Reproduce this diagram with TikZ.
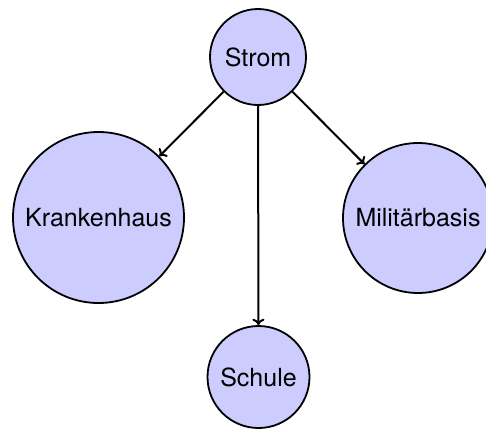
\documentclass[tikz,border=0pt]{standalone}
\usepackage{fontspec}
\setmainfont{TeX Gyre Heros}
\usepackage{tikz}
\usetikzlibrary{arrows,arrows.meta,shapes}

\begin{document}
\begin{tikzpicture}[->,>={To[length=3.2pt,width=6pt]},line width=1pt,
			main node/.style={circle,draw,line width=0.9pt,fill=blue!20,inner sep=0pt,font=\fontsize{12.5}{15}\selectfont}
			]

			\useasboundingbox (0pt,0pt) rectangle (243pt,-214.5pt);

			\node[main node,minimum size=48pt] at (129pt,-28.5pt) (strom) {Strom};
			\node[main node,minimum size=85.5pt] at (49.25pt,-108.75pt) (kh) {Krankenhaus};
			\node[main node,minimum size=75pt] at (209pt,-109pt) (mil) {Militärbasis};
			\node[main node,minimum size=51pt] at (129.25pt,-188.5pt) (schule) {Schule};

			\draw (strom) -- (kh);
			\draw (strom) -- (schule);
			\draw (strom) -- (mil);
		\end{tikzpicture}
\end{document}
